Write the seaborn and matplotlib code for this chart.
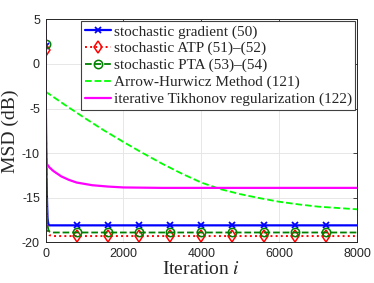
import numpy as np
import pandas as pd
import matplotlib
matplotlib.use("Agg")
import matplotlib.pyplot as plt
import seaborn as sns

# ---------------- data ----------------
iter_fast = [0, 10, 25, 50, 75, 100, 200, 400, 800, 1200, 1600, 2000, 2400, 2800,
             3200, 3600, 4000, 4400, 4800, 5200, 5600, 6000, 6400, 6800, 7200,
             7600, 8000]
msd_sg = [2.0, -5.0, -13.0, -17.3, -18.0, -18.1, -18.1, -18.1, -18.1, -18.1, -18.1,
          -18.1, -18.1, -18.1, -18.1, -18.1, -18.1, -18.1, -18.1, -18.1, -18.1,
          -18.1, -18.1, -18.1, -18.1, -18.1, -18.1]
msd_atp = [1.6, -6.0, -14.0, -18.4, -19.0, -19.2, -19.3, -19.3, -19.3, -19.3, -19.3,
           -19.3, -19.3, -19.3, -19.3, -19.3, -19.3, -19.3, -19.3, -19.3, -19.3,
           -19.3, -19.3, -19.3, -19.3, -19.3, -19.3]
msd_pta = [2.2, -5.0, -13.0, -18.1, -18.6, -18.8, -18.9, -18.9, -18.9, -18.9, -18.9,
           -18.9, -18.9, -18.9, -18.9, -18.9, -18.9, -18.9, -18.9, -18.9, -18.9,
           -18.9, -18.9, -18.9, -18.9, -18.9, -18.9]

iter_ah = [0, 500, 1000, 1500, 2000, 2500, 3000, 3500, 4000, 4500, 5000, 5500,
           6000, 6500, 7000, 7500, 8000]
msd_ah = [-3.1, -4.6, -6.05, -7.45, -8.75, -10.0, -11.2, -12.3, -13.3, -14.05,
          -14.6, -15.05, -15.45, -15.75, -16.0, -16.15, -16.3]

iter_tik = [0, 10, 30, 100, 200, 400, 600, 800, 1200, 1600, 2000, 3000, 4000,
            5000, 6000, 7000, 8000]
msd_tik = [5.0, -10.0, -11.2, -11.6, -12.0, -12.6, -13.0, -13.3, -13.6, -13.75,
           -13.85, -13.9, -13.9, -13.9, -13.9, -13.9, -13.9]

labels = ["stochastic gradient (50)", "stochastic ATP (51)\u2013(52)",
          "stochastic PTA (53)\u2013(54)", "Arrow-Hurwicz Method (121)",
          "iterative Tikhonov regularization (122)"]
x_ticks = [0, 2000, 4000, 6000, 8000]
y_ticks = [-20, -15, -10, -5, 0, 5]
marker_iters = [0, 800, 1600, 2400, 3200, 4000, 4800, 5600, 6400, 7200]

# ---------------- style ----------------
sns.set_style("white")
plt.rcParams["font.family"] = ["Liberation Sans", "DejaVu Sans"]
plt.rcParams["mathtext.fontset"] = "stix"

fig = plt.figure(figsize=(3.74, 2.83), dpi=100)
ax = fig.add_axes([0.1217, 0.1438, 0.9545 - 0.1217, 0.9318 - 0.1438])

mk_idx = [iter_fast.index(m) for m in marker_iters]

BLUE, RED, DGREEN, LIME, MAG = (0, 0, 1), (1, 0, 0), (0, 0.5, 0), (0, 1, 0), (1, 0, 1)

sns.lineplot(x=iter_fast, y=msd_sg, ax=ax, color=BLUE, linewidth=1.6,
             linestyle="-", dashes=False,
             marker="x", markersize=5, markeredgewidth=1.3, markeredgecolor=BLUE,
             markevery=mk_idx, label=labels[0], estimator=None)
sns.lineplot(x=iter_fast, y=msd_atp, ax=ax, color=RED, linewidth=1.4,
             linestyle=":", dashes=False,
             marker="d", markersize=6, markeredgewidth=1.1, markerfacecolor="none",
             markeredgecolor=RED, markevery=mk_idx,
             label=labels[1], estimator=None)
sns.lineplot(x=iter_fast, y=msd_pta, ax=ax, color=DGREEN, linewidth=1.3,
             linestyle="--", dashes=False,
             marker="o", markersize=6, markeredgewidth=1.1, markerfacecolor="none",
             markeredgecolor=DGREEN, markevery=mk_idx,
             label=labels[2], estimator=None)
sns.lineplot(x=iter_ah, y=msd_ah, ax=ax, color=LIME, linewidth=1.3,
             linestyle="--", dashes=False, label=labels[3], estimator=None)
sns.lineplot(x=iter_tik, y=msd_tik, ax=ax, color=MAG, linewidth=1.6,
             linestyle="-", dashes=False, label=labels[4], estimator=None)

ax.set_xlim(0, 8000)
ax.set_ylim(-20, 5)
ax.set_xticks(x_ticks)
ax.set_yticks(y_ticks)
ax.set_xticklabels([str(v) for v in x_ticks])
ax.set_yticklabels([str(v) for v in y_ticks])
ax.tick_params(direction="in", length=3, width=0.6, labelsize=9, pad=4,
               colors="#262626", top=True, right=True)
ax.grid(True, color="#e3e3e3", lw=0.6)
for s in ax.spines.values():
    s.set_color("#262626")
    s.set_linewidth(0.7)

ax.set_xlabel("Iteration $i$", fontsize=14, family="Liberation Serif", labelpad=1)
ax.set_ylabel("MSD (dB)", fontsize=14, family="Liberation Serif", labelpad=2)

leg = ax.legend(loc="upper right", bbox_to_anchor=(1.0, 1.0), borderaxespad=0.1,
                prop={"family": "Liberation Serif", "size": 11}, frameon=True,
                fancybox=False, edgecolor="#404040", framealpha=1,
                handlelength=1.7, handletextpad=0.15, labelspacing=0.2,
                borderpad=0.25)
leg.get_frame().set_linewidth(0.8)

fig.savefig("out.png", dpi=100)
